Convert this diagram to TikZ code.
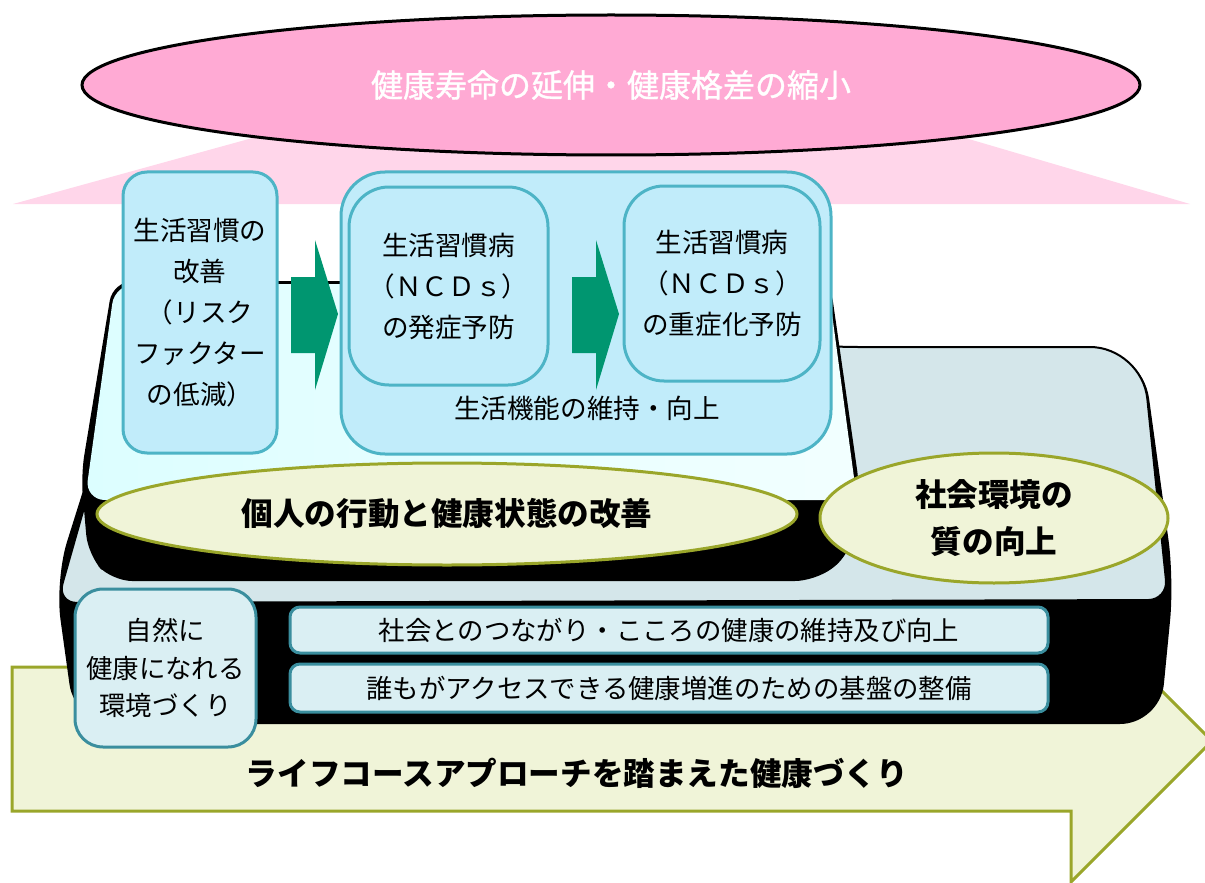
\documentclass[tikz,border=0pt]{standalone}
\usepackage{fontspec}
\setmainfont{Noto Sans CJK JP}
\newfontface\titlefont{Noto Sans CJK JP}[FakeBold=1]
\usetikzlibrary{shapes.geometric}

\definecolor{pinkfill}{HTML}{FFAAD4}
\definecolor{pinklight}{HTML}{FFD6EA}
\definecolor{cyanfill}{HTML}{C1ECFA}
\definecolor{cyanline}{HTML}{4DB4C6}
\definecolor{paleblue}{HTML}{DAEFF3}
\definecolor{tealline}{HTML}{3A8E9E}
\definecolor{greyblue}{HTML}{D4E6EA}
\definecolor{uppercyan}{HTML}{DCFEFF}
\definecolor{upperwhite}{HTML}{F2FFFF}
\definecolor{olivefill}{HTML}{F0F4D8}
\definecolor{oliveline}{HTML}{9AA62A}
\definecolor{arrowgreen}{HTML}{009670}

\begin{document}
\begin{tikzpicture}[x=0.5pt,y=-0.5pt,
    box/.style={draw=cyanline, fill=cyanfill, line width=1.5pt, inner sep=0pt,
      align=center, font=\fontsize{13.3}{20.5}\selectfont},
    lowbox/.style={draw=tealline, fill=paleblue, line width=1.5pt, inner sep=0pt,
      align=center, font=\fontsize{13.2}{18.8}\selectfont},
    aimell/.style={ellipse, draw=oliveline, fill=olivefill, line width=1.5pt, inner sep=0pt,
      align=center, font=\bfseries\fontsize{15.8}{23.5}\selectfont}]
  \useasboundingbox (0,0) rectangle (1205,883);

  %light pink cone under the goal
  \fill[pinklight] (13,204) -- (354,110) -- (870,110) -- (1190,204) -- cycle;
  \node[ellipse, draw=black, line width=1.5pt, fill=pinkfill, minimum width=529pt,
    minimum height=70pt, inner sep=0pt, text=white, font=\titlefont\fontsize{16}{20}\selectfont]
    (goal) at (611,85) {健康寿命の延伸・健康格差の縮小};

  %big arrow at the bottom
  \filldraw[fill=olivefill, draw=oliveline, line width=1.5pt]
    (12,667) -- (1071,667) -- (1071,600) -- (1212,741) -- (1071,882) -- (1071,811) -- (12,811) -- cycle;
  \node[font=\bfseries\fontsize{15.8}{20}\selectfont] (course) at (577,773)
    {ライフコースアプローチを踏まえた健康づくり};

  %lower platform
  \fill[black, rounded corners=20pt]
    (143,300) -- (838,347) [rounded corners=26pt] -- (1142,347) [rounded corners=20pt] -- (1174,580)
    -- (1160,724) -- (75,724) -- (55,580) -- cycle;
  \filldraw[fill=greyblue, draw=black, line width=1pt, rounded corners=10pt]
    (143,300) -- (838,347) [rounded corners=26pt] -- (1142,347) [rounded corners=10pt] -- (1168,600)
    -- (57,603) -- cycle;

  %upper platform
  \fill[black, rounded corners=10pt]
    (113,281) -- (830,281) -- (860,490) -- (850,555) -- (815,581) -- (112,581) -- (88,555) -- (81,475) -- cycle;
  \shade[left color=uppercyan, right color=upperwhite, rounded corners=10pt]
    (115,284) -- (828,284) -- (857,500) -- (85,500) -- cycle;

  %boxes on the upper platform
  \node[box, rounded corners=12pt, minimum width=77pt, minimum height=140.5pt]
    (habit) at (200,312.5) {生活習慣の\\改善\\（リスク\\ファクター\\の低減）};
  \node[box, rounded corners=22pt, minimum width=245pt, minimum height=141pt]
    (function) at (586,313) {};
  \node[box, rounded corners=20pt, minimum width=99.5pt, minimum height=99pt]
    (onset) at (448.5,286) {生活習慣病\\（ＮＣＤｓ）\\の発症予防};
  \node[box, rounded corners=20pt, minimum width=98pt, minimum height=97.5pt]
    (severe) at (722,283.5) {生活習慣病\\（ＮＣＤｓ）\\の重症化予防};
  \node[font=\fontsize{13.3}{20.5}\selectfont] (funclabel) at (587,408) {生活機能の維持・向上};

  %green block arrows
  \foreach \dx in {0,281}
    \fill[arrowgreen, shift={(\dx,0)}]
      (291,277) -- (315,277) -- (315,240) -- (338,314) -- (315,390) -- (315,353) -- (291,353) -- cycle;

  %yellow ellipses
  \node[aimell, minimum width=350pt, minimum height=51pt] (individual) at (447,514)
    {個人の行動と健康状態の改善};
  \node[aimell, minimum width=174pt, minimum height=65pt] (social) at (994,518)
    {社会環境の\\質の向上};

  %boxes on the lower platform
  \node[lowbox, rounded corners=14pt, minimum width=90.5pt, minimum height=79pt]
    (nature) at (165.5,668) {自然に\\健康になれる\\環境づくり};
  \node[lowbox, rounded corners=5pt, minimum width=379pt, minimum height=23pt]
    (bonds) at (669,630) {社会とのつながり・こころの健康の維持及び向上};
  \node[lowbox, rounded corners=5pt, minimum width=379pt, minimum height=24pt]
    (access) at (669,688) {誰もがアクセスできる健康増進のための基盤の整備};
\end{tikzpicture}
\end{document}
